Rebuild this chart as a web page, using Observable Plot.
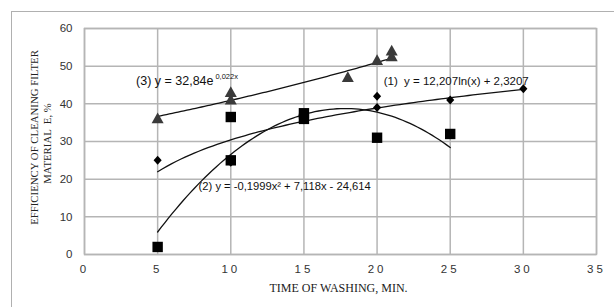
<!DOCTYPE html>
<html><head><meta charset="utf-8">
<script src="https://cdn.jsdelivr.net/npm/d3@7"></script>
<script src="https://cdn.jsdelivr.net/npm/@observablehq/plot@0.6"></script>
<style>
body{margin:0;background:#fff;}
#wrap{position:relative;width:614px;height:307px;overflow:hidden;}
#frame{position:absolute;left:11px;top:11px;width:620px;height:320px;border:1.5px solid #b0b0b0;box-sizing:border-box;}
#chart{position:absolute;left:0;top:0;}
#chart g[aria-label="x-axis tick label"] text{letter-spacing:3px;}
</style></head>
<body><div id="wrap"><div id="frame"></div><div id="chart"></div></div>
<script>
// Series (1) diamonds
const s1X = [5, 10, 15, 20, 20, 25, 30];
const s1Y = [25, 24.5, 35.8, 42, 39, 41, 44];
// Series (2) squares
const s2X = [5, 10, 10, 15, 15, 20, 25];
const s2Y = [2, 36.5, 25, 37.5, 36, 31, 32];
// Series (3) triangles
const s3X = [5, 10, 10, 18, 20, 21, 21];
const s3Y = [36, 43, 41, 47, 51.5, 54, 52.5];
// Trendline coefficients as printed on the chart
const trend1 = [12.207, 2.3207];          // a*ln(x)+b
const trend2 = [-0.1999, 7.118, -24.614]; // a x^2 + b x + c
const trend3 = [32.84, 0.022];            // a*e^(b x)
const trendRange1 = [5, 30], trendRange2 = [5, 25], trendRange3 = [5, 21];
const xTicks = [0, 5, 10, 15, 20, 25, 30, 35];
const yTicks = [0, 10, 20, 30, 40, 50, 60];
const labels = {
  t3: "(3) y = 32,84e",
  t3sup: "0,022x",
  t1: "(1)  y = 12,207ln(x) + 2,3207",
  t2: "(2) y = -0,1999x² + 7,118x - 24,614",
  xTitle: "TIME OF WASHING, MIN.",
  yTitle1: "EFFICIENCY OF CLEANING FILTER",
  yTitle2: "MATERIAL  E, %"
};

const pts = (xs, ys) => xs.map((x, i) => ({x, y: ys[i]}));
function curve(f, [a, b]) {
  const out = [];
  for (let i = 0; i <= 80; i++) { const x = a + (b - a) * i / 80; out.push({x, y: f(x)}); }
  return out;
}
const c1 = curve(x => trend1[0] * Math.log(x) + trend1[1], trendRange1);
const c2 = curve(x => trend2[0] * x * x + trend2[1] * x + trend2[2], trendRange2);
const c3 = curve(x => trend3[0] * Math.exp(trend3[1] * x), trendRange3);

const rad = size => Math.sqrt(size / Math.PI);
const tri = {draw(ctx, size){const s=rad(size)*1.15; ctx.moveTo(0,-s); ctx.lineTo(s*0.95,s*0.7); ctx.lineTo(-s*0.95,s*0.7); ctx.closePath();}};
const dia = {draw(ctx, size){const r=rad(size); ctx.moveTo(0,-r); ctx.lineTo(r*0.9,0); ctx.lineTo(0,r); ctx.lineTo(-r*0.9,0); ctx.closePath();}};
const sq = {draw(ctx, size){const r=rad(size); ctx.rect(-r,-r,2*r,2*r);}};

const serif = "'Liberation Serif', serif";
const chart = Plot.plot({
  width: 614, height: 307,
  marginLeft: 84, marginRight: 18, marginTop: 28, marginBottom: 53,
  style: {fontFamily: "'Liberation Sans', sans-serif", fontSize: "11.5px", color: "#333"},
  x: {domain: [0, 35], ticks: xTicks, label: null},
  y: {domain: [0, 60], ticks: yTicks, label: null},
  marks: [
    Plot.gridX(xTicks, {stroke: "#b5b5b5", strokeOpacity: 1, strokeWidth: 1.5}),
    Plot.gridY(yTicks, {stroke: "#b5b5b5", strokeOpacity: 1, strokeWidth: 1.5}),
    Plot.frame({stroke: "#b5b5b5", strokeWidth: 1.5}),
    Plot.axisX(xTicks, {tickSize: 0, tickPadding: 10, fill: "#333", tickFormat: d => String(d)}),
    Plot.axisY(yTicks, {tickSize: 0, tickPadding: 12, fill: "#333"}),
    Plot.line(c1, {x: "x", y: "y", stroke: "#111", strokeWidth: 1.3}),
    Plot.line(c2, {x: "x", y: "y", stroke: "#111", strokeWidth: 1.3}),
    Plot.line(c3, {x: "x", y: "y", stroke: "#111", strokeWidth: 1.3}),
    Plot.dot(pts(s3X, s3Y), {x: "x", y: "y", symbol: tri, r: 5.5, fill: "#3a3a3a", stroke: "none"}),
    Plot.dot(pts(s2X, s2Y), {x: "x", y: "y", symbol: sq, r: 5.2, fill: "#000", stroke: "none"}),
    Plot.dot(pts(s1X, s1Y), {x: "x", y: "y", symbol: dia, r: 4.5, fill: "#000", stroke: "none"}),
    Plot.text([labels.t3], {x: 8.82, y: 46, text: d => d, textAnchor: "end", fill: "#111", fontSize: 12.5}),
    Plot.text([labels.t3sup], {x: 8.95, y: 47.3, text: d => d, textAnchor: "start", fill: "#111", fontSize: 7.5}),
    Plot.text([labels.t1], {x: 20.45, y: 46, text: d => d, textAnchor: "start", fill: "#111", fontSize: 11.5}),
    Plot.text([labels.t2], {x: 7.8, y: 18, text: d => d, textAnchor: "start", fill: "#111", fontSize: 11.2}),
    Plot.text([labels.xTitle], {frameAnchor: "bottom", textAnchor: "middle", dy: 37, dx: -2, text: d => d, fontFamily: serif, fontSize: 12, fill: "#222"}),
    Plot.text([labels.yTitle1], {frameAnchor: "left", textAnchor: "middle", dx: -50, dy: -4, rotate: -90, text: d => d, fontFamily: serif, fontSize: 10.8, fill: "#222"}),
    Plot.text([labels.yTitle2], {frameAnchor: "left", textAnchor: "middle", dx: -37, dy: 2, rotate: -90, text: d => d, fontFamily: serif, fontSize: 10.8, fill: "#222"})
  ]
});
document.getElementById("chart").appendChild(chart);
</script></body></html>
